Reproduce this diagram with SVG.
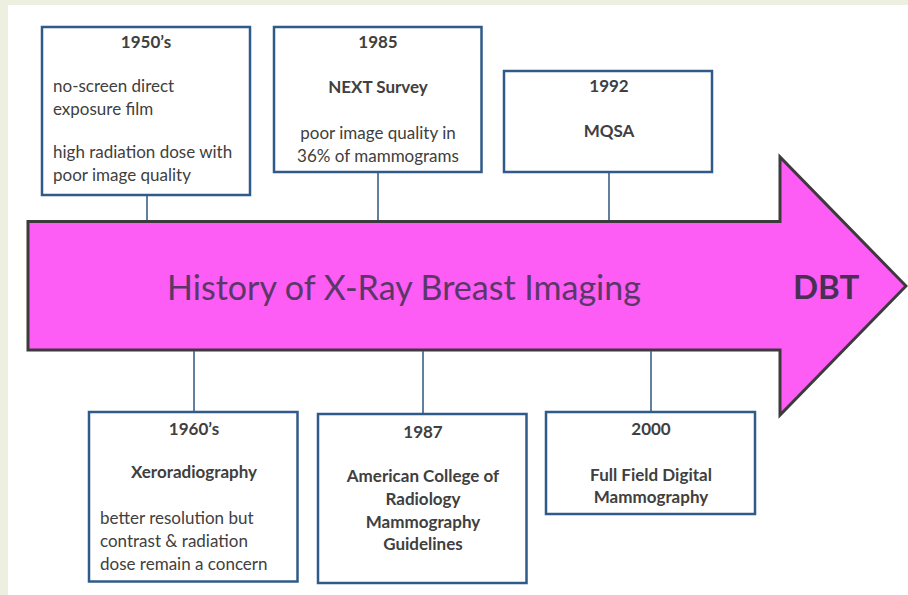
<svg xmlns="http://www.w3.org/2000/svg" width="908" height="595" viewBox="0 0 908 595">
<style>
.bg{fill:#edefe0}
.box{fill:#ffffff;stroke:#2f5a8a;stroke-width:2.5}
.con{stroke:#3b5f87;stroke-width:1.6;fill:none}
.t{font-family:Lato,"Open Sans","Liberation Sans",sans-serif;font-size:17px;fill:#404040}
.b{font-weight:bold}
.c{text-anchor:middle}
.title{font-family:Lato,"Open Sans","Liberation Sans",sans-serif;font-size:34px;fill:#5a3769;text-anchor:middle}
.dbt{font-family:Lato,"Open Sans","Liberation Sans",sans-serif;font-size:33px;font-weight:bold;fill:#4a2f55}
</style>
<rect class="bg" x="0" y="0" width="908" height="595"/>
<rect x="8" y="5" width="900" height="590" fill="#ffffff"/>
<g id="arrow">
<path d="M28,221.5 L780,221.5 L780,157 L906,286 L780,415 L780,350 L28,350 Z" fill="#fd5cf5" stroke="#3d3a3d" stroke-width="3" stroke-linejoin="miter"/>
<text class="title" x="404" y="300">History of X-Ray Breast Imaging</text>
<text class="dbt" x="793" y="299">DBT</text>
</g>
<g id="connectors">
<line class="con" x1="147" y1="195" x2="147" y2="220"/>
<line class="con" x1="378" y1="172" x2="378" y2="220"/>
<line class="con" x1="609" y1="172" x2="609" y2="220"/>
<line class="con" x1="194" y1="351" x2="194" y2="412"/>
<line class="con" x1="423" y1="351" x2="423" y2="414"/>
<line class="con" x1="651" y1="351" x2="651" y2="412"/>
</g>
<g id="n1950">
<rect class="box" x="42" y="27" width="208" height="168"/>
<text class="t b c" x="146" y="48">1950’s</text>
<text class="t" x="53" y="92">no-screen direct</text>
<text class="t" x="53" y="115">exposure film</text>
<text class="t" x="53" y="158">high radiation dose with</text>
<text class="t" x="53" y="181">poor image quality</text>
</g>
<g id="n1985">
<rect class="box" x="274" y="27" width="207.5" height="145"/>
<text class="t b c" x="378" y="48">1985</text>
<text class="t b c" x="378" y="93">NEXT Survey</text>
<text class="t c" x="378" y="139">poor image quality in</text>
<text class="t c" x="378" y="162">36% of mammograms</text>
</g>
<g id="n1992">
<rect class="box" x="504" y="71" width="208" height="101"/>
<text class="t b c" x="609" y="92">1992</text>
<text class="t b c" x="609" y="137">MQSA</text>
</g>
<g id="n1960">
<rect class="box" x="89" y="412" width="208.5" height="169.5"/>
<text class="t b c" x="194" y="435">1960’s</text>
<text class="t b c" x="194" y="478">Xeroradiography</text>
<text class="t" x="100" y="524">better resolution but</text>
<text class="t" x="100" y="547">contrast &amp; radiation</text>
<text class="t" x="100" y="570">dose remain a concern</text>
</g>
<g id="n1987">
<rect class="box" x="318" y="414" width="208.5" height="169"/>
<text class="t b c" x="423" y="438">1987</text>
<text class="t b c" x="423" y="482">American College of</text>
<text class="t b c" x="423" y="505">Radiology</text>
<text class="t b c" x="423" y="528">Mammography</text>
<text class="t b c" x="423" y="550">Guidelines</text>
</g>
<g id="n2000">
<rect class="box" x="546" y="412" width="209" height="102"/>
<text class="t b c" x="651" y="435">2000</text>
<text class="t b c" x="651" y="481">Full Field Digital</text>
<text class="t b c" x="651" y="503">Mammography</text>
</g>
</svg>
